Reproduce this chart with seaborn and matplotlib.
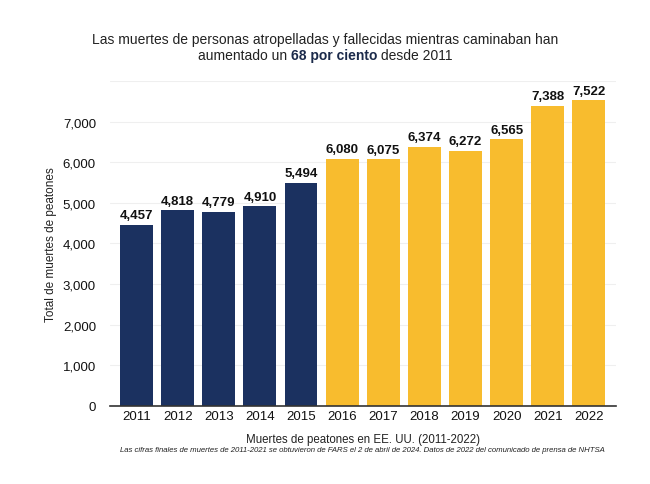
import matplotlib
matplotlib.use("Agg")
import matplotlib.pyplot as plt
import seaborn as sns
import pandas as pd

years = ["2011", "2012", "2013", "2014", "2015", "2016", "2017", "2018", "2019", "2020", "2021", "2022"]
deaths = [4457, 4818, 4779, 4910, 5494, 6080, 6075, 6374, 6272, 6565, 7388, 7522]
periodo = ["a", "a", "a", "a", "a", "b", "b", "b", "b", "b", "b", "b"]

df = pd.DataFrame({"year": years, "deaths": deaths, "periodo": periodo})

sns.set_theme(style="white")
plt.rcParams["font.family"] = ["Liberation Sans", "DejaVu Sans"]

navy = "#1b3160"
yellow = "#f8bc2e"

fig = plt.figure(figsize=(6.5, 4.85), dpi=100)
ax = fig.add_axes([0.169, 0.161, 0.778, 0.670])

sns.barplot(data=df, x="year", y="deaths", hue="periodo",
            palette={"a": navy, "b": yellow}, dodge=False, width=0.8,
            legend=False, ax=ax, saturation=1, linewidth=0)

for i, v in enumerate(deaths):
    ax.text(i, v + 90, f"{v:,}", ha="center", va="bottom", fontsize=9.5,
            fontweight="semibold", color="#111111")

ax.set_ylim(0, 8000)
ax.set_yticks(range(0, 8001, 1000))
ax.set_yticklabels([f"{t:,}" for t in range(0, 7001, 1000)] + [""])
ax.yaxis.grid(True, color="#efefef", linewidth=0.8)
ax.set_axisbelow(True)
ax.set_xlim(-0.65, 11.65)
for s in ["left", "right", "top"]:
    ax.spines[s].set_visible(False)
ax.spines["bottom"].set_color("#333333")
ax.spines["bottom"].set_linewidth(1.2)
ax.tick_params(axis="both", length=0, labelsize=9.5, colors="#111111")
ax.tick_params(axis="y", pad=10)
ax.tick_params(axis="x", pad=3)

ax.set_xlabel("Muertes de peatones en EE. UU. (2011-2022)", fontsize=8.3, labelpad=8, color="#222222")
ax.set_ylabel("Total de muertes de peatones", fontsize=8.5, labelpad=4, color="#222222")

# title, second line with a bold part
fig.text(0.5, 1 - 40 / 485, "Las muertes de personas atropelladas y fallecidas mientras caminaban han",
         ha="center", va="center", fontsize=10, color="#222222")
parts = [("aumentado un ", "normal"), ("68 por ciento", "bold"), (" desde 2011", "normal")]
fig.canvas.draw()
renderer = fig.canvas.get_renderer()
texts = []
for s, w in parts:
    t = fig.text(0, 1 - 56 / 485, s, ha="left", va="center", fontsize=10,
                 fontweight=w, color="#1b2a4a" if w == "bold" else "#222222")
    texts.append(t)
widths = [t.get_window_extent(renderer).width for t in texts]
total = sum(widths)
x = (650 - total) / 2
for t, w in zip(texts, widths):
    t.set_x(x / 650)
    x += w

fig.text(362 / 650, 1 - 451 / 485,
         "Las cifras finales de muertes de 2011-2021 se obtuvieron de FARS el 2 de abril de 2024. Datos de 2022 del comunicado de prensa de NHTSA",
         ha="center", va="center", fontsize=5.6, style="italic", color="#222222")

fig.savefig("out.png", dpi=100, facecolor="white")
